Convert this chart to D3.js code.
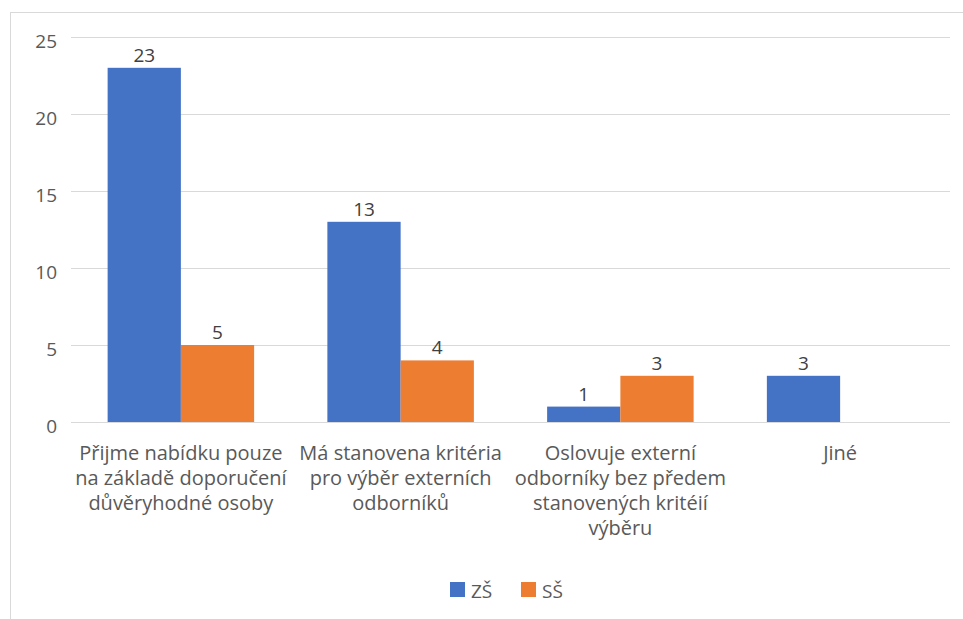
<!DOCTYPE html>
<html>
<head>
<meta charset="utf-8">
<script src="https://cdn.jsdelivr.net/npm/d3@7/dist/d3.min.js"></script>
<style>
  html, body { margin: 0; padding: 0; background: #fff; }
  svg { display: block; font-family: "Open Sans", "Noto Sans", sans-serif; }
</style>
</head>
<body>
<svg id="chart" width="963" height="619"></svg>
<script>
// Category labels, already broken into lines
const categories = [
  ["Přijme nabídku pouze", "na základě doporučení", "důvěryhodné osoby"],
  ["Má stanovena kritéria", "pro výběr externích", "odborníků"],
  ["Oslovuje externí", "odborníky bez předem", "stanovených kritéií", "výběru"],
  ["Jiné"]
];
const seriesNames = ["ZŠ", "SŠ"];
const seriesColors = ["#4472C4", "#ED7D31"];
const valuesZS = [23, 13, 1, 3];
const valuesSS = [5, 4, 3, null];
const yTicks = [0, 5, 10, 15, 20, 25];

const svg = d3.select("#chart");
const W = 963, H = 619;

// chart area frame
svg.append("rect")
  .attr("x", 10.5).attr("y", 12.5)
  .attr("width", W + 20).attr("height", H + 20)
  .attr("fill", "#fff").attr("stroke", "#D9D9D9").attr("stroke-width", 1);

const plot = { left: 71, right: 950, top: 37, bottom: 422 };

const x0 = d3.scaleBand()
  .domain(d3.range(categories.length))
  .range([plot.left, plot.right])
  .paddingInner(0).paddingOuter(0);

const bw = x0.bandwidth();
const x1 = d3.scaleBand()
  .domain(seriesNames)
  .range([bw / 6, bw - bw / 6])
  .padding(0);

const y = d3.scaleLinear().domain([0, 25]).range([plot.bottom, plot.top]);

// gridlines
svg.append("g")
  .selectAll("line")
  .data(yTicks)
  .join("line")
  .attr("x1", plot.left).attr("x2", plot.right)
  .attr("y1", d => Math.round(y(d)) + 0.5).attr("y2", d => Math.round(y(d)) + 0.5)
  .attr("stroke", "#D9D9D9").attr("stroke-width", 1);

// y axis labels
const yAxis = d3.axisLeft(y).tickValues(yTicks).tickSize(0).tickPadding(0);
const gy = svg.append("g").attr("transform", `translate(57,0)`).call(yAxis);
gy.select(".domain").remove();
gy.selectAll("text")
  .attr("fill", "#595959")
  .attr("dy", "0.55em")
  .style("font-size", "19px")
  .style("font-family", "\"Open Sans\", sans-serif");

// bars
const data = categories.map((c, i) => ({ i, vals: [valuesZS[i], valuesSS[i]] }));

const groups = svg.append("g").selectAll("g")
  .data(data)
  .join("g")
  .attr("transform", d => `translate(${x0(d.i)},0)`);

groups.selectAll("rect")
  .data(d => d.vals.map((v, k) => ({ v, k })).filter(e => e.v != null))
  .join("rect")
  .attr("x", e => x1(seriesNames[e.k]))
  .attr("width", x1.bandwidth())
  .attr("y", e => y(e.v))
  .attr("height", e => y(0) - y(e.v))
  .attr("fill", e => seriesColors[e.k]);

groups.selectAll("text.val")
  .data(d => d.vals.map((v, k) => ({ v, k })).filter(e => e.v != null))
  .join("text")
  .attr("class", "val")
  .attr("x", e => x1(seriesNames[e.k]) + x1.bandwidth() / 2)
  .attr("y", e => y(e.v) - 6)
  .attr("text-anchor", "middle")
  .attr("fill", "#404040")
  .style("font-size", "19px")
  .text(e => e.v);

// category labels
const xl = svg.append("g").selectAll("text")
  .data(categories)
  .join("text")
  .attr("x", (d, i) => x0(i) + bw / 2)
  .attr("y", 460)
  .attr("text-anchor", "middle")
  .attr("fill", "#595959")
  .style("font-size", "20px");
xl.selectAll("tspan")
  .data(d => d)
  .join("tspan")
  .attr("x", function () { return d3.select(this.parentNode).attr("x"); })
  .attr("dy", (d, j) => j === 0 ? 0 : 25)
  .text(d => d);

// legend
const legendItems = [
  { name: seriesNames[0], color: seriesColors[0], x: 450 },
  { name: seriesNames[1], color: seriesColors[1], x: 521 }
];
const lg = svg.append("g").selectAll("g")
  .data(legendItems)
  .join("g")
  .attr("transform", d => `translate(${d.x},582)`);
lg.append("rect").attr("width", 15).attr("height", 15).attr("fill", d => d.color);
lg.append("text")
  .attr("x", 21).attr("y", 15.5)
  .attr("fill", "#595959")
  .style("font-size", "19px")
  .text(d => d.name);
</script>
</body>
</html>
